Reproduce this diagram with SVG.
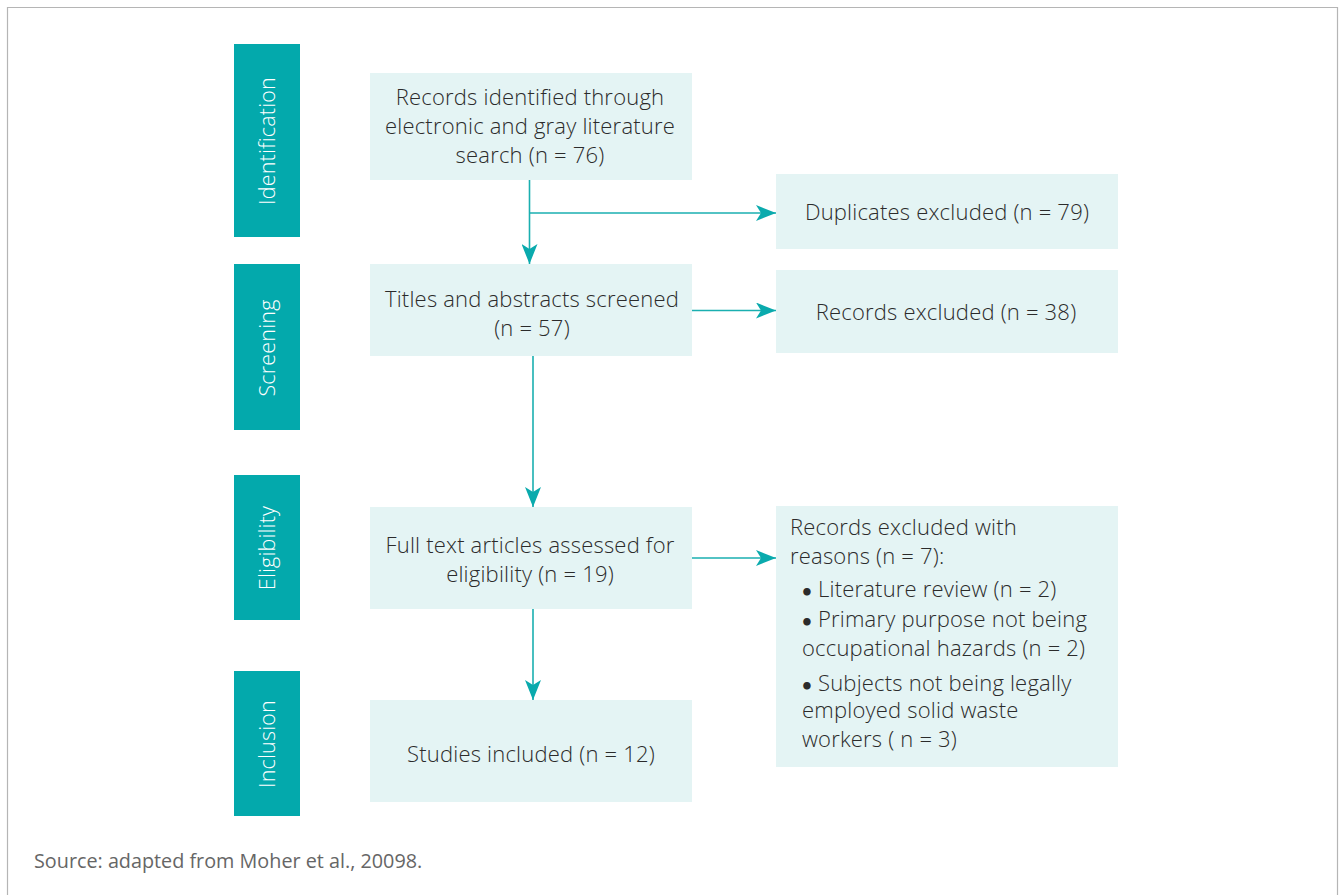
<svg xmlns="http://www.w3.org/2000/svg" width="1340" height="895" viewBox="0 0 1340 895">
<style>
.stage{fill:#03A9AC}
.stxt{fill:#ffffff;font-family:"Open Sans",Lato,sans-serif;font-weight:300;font-size:21.5px;letter-spacing:0.2px;text-anchor:middle}
.box{fill:#E4F4F4}
.t{fill:#2b2b2b;font-family:"Open Sans",Lato,sans-serif;font-weight:300;font-size:22px;letter-spacing:0.2px}
.c{text-anchor:middle}
.b{font-family:Lato,sans-serif;font-weight:700;font-size:17px}
.conn{stroke:#1AAFB0;stroke-width:1.6;fill:none}
.src{fill:#666666;font-family:"Open Sans",Lato,sans-serif;font-size:19.8px}
</style>
<defs>
<marker id="ah" viewBox="0 0 20 16" refX="20" refY="8" markerWidth="20" markerHeight="16" markerUnits="userSpaceOnUse" orient="auto">
<path d="M0,0 L20,8 L0,16 L5,8 Z" fill="#0AAAAD"/>
</marker>
</defs>
<rect x="0" y="0" width="1340" height="895" fill="#ffffff"/>
<path d="M7.5,895 V7.5 H1337.5 V895" fill="none" stroke="#b5b5b5" stroke-width="1.2"/>

<g id="stage-identification"><rect class="stage" x="234" y="44" width="66" height="193"/><text class="stxt" transform="translate(274.5,141) rotate(-90)">Identification</text></g>
<g id="stage-screening"><rect class="stage" x="234" y="264" width="66" height="166"/><text class="stxt" transform="translate(274.5,348) rotate(-90)">Screening</text></g>
<g id="stage-eligibility"><rect class="stage" x="234" y="475" width="66" height="145"/><text class="stxt" transform="translate(274.5,548) rotate(-90)">Eligibility</text></g>
<g id="stage-inclusion"><rect class="stage" x="234" y="671" width="66" height="145"/><text class="stxt" transform="translate(274.5,744) rotate(-90)">Inclusion</text></g>

<g id="records-identified"><rect class="box" x="370" y="73" width="322" height="107"/>
<text class="t c" x="530" y="105">Records identified through</text>
<text class="t c" x="530" y="134">electronic and gray literature</text>
<text class="t c" x="530" y="163">search (n = 76)</text></g>

<g id="duplicates"><rect class="box" x="776" y="174" width="342" height="75"/>
<text class="t c" x="947" y="220">Duplicates excluded (n = 79)</text></g>

<g id="titles"><rect class="box" x="370" y="264" width="322" height="92"/>
<text class="t c" x="532" y="307">Titles and abstracts screened</text>
<text class="t c" x="532" y="336">(n = 57)</text></g>

<g id="records-excluded"><rect class="box" x="776" y="270" width="342" height="83"/>
<text class="t c" x="946" y="320">Records excluded (n = 38)</text></g>

<g id="fulltext"><rect class="box" x="370" y="507" width="322" height="102"/>
<text class="t c" x="530" y="553">Full text articles assessed for</text>
<text class="t c" x="530" y="582">eligibility (n = 19)</text></g>

<g id="excluded-reasons"><rect class="box" x="776" y="506" width="342" height="261"/>
<text class="t" x="790" y="535">Records excluded with</text>
<text class="t" x="790" y="564">reasons (n = 7):</text>
<text class="t" x="802" y="597"><tspan class="b">•</tspan> Literature review (n = 2)</text>
<text class="t" x="802" y="627"><tspan class="b">•</tspan> Primary purpose not being</text>
<text class="t" x="802" y="656">occupational hazards (n = 2)</text>
<text class="t" x="802" y="691"><tspan class="b">•</tspan> Subjects not being legally</text>
<text class="t" x="802" y="718">employed solid waste</text>
<text class="t" x="802" y="747">workers ( n = 3)</text></g>

<g id="studies"><rect class="box" x="370" y="700" width="322" height="102"/>
<text class="t c" x="531" y="762">Studies included (n = 12)</text></g>

<g id="connectors">
<path class="conn" d="M529.5,180 V264" marker-end="url(#ah)"/>
<path class="conn" d="M529.5,213 H776" marker-end="url(#ah)"/>
<path class="conn" d="M692,310.5 H776" marker-end="url(#ah)"/>
<path class="conn" d="M533,356 V507" marker-end="url(#ah)"/>
<path class="conn" d="M692,558 H776" marker-end="url(#ah)"/>
<path class="conn" d="M533,609 V700" marker-end="url(#ah)"/>
</g>

<text class="src" x="34" y="868">Source: adapted from Moher et al., 20098.</text>
</svg>
